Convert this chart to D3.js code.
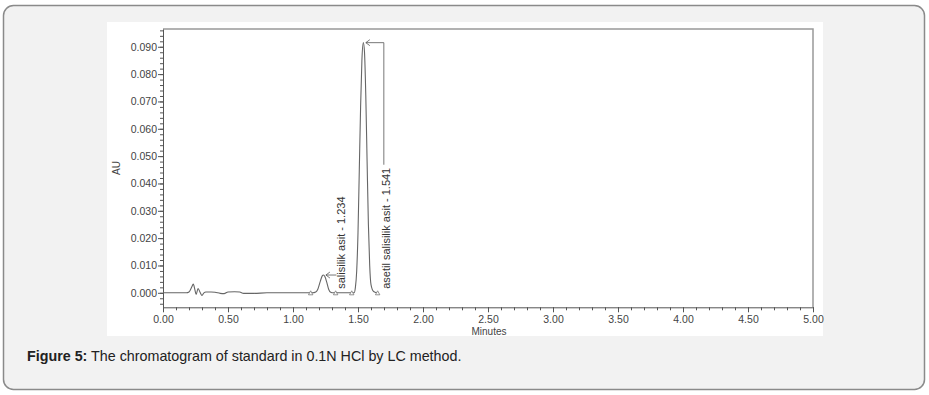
<!DOCTYPE html>
<html>
<head>
<meta charset="utf-8">
<script src="https://cdn.jsdelivr.net/npm/d3@7"></script>
<style>
  body { margin: 0; background: #ffffff; font-family: "Liberation Sans", Arial, sans-serif; }
  svg { display: block; }
</style>
</head>
<body>
<div id="vis"></div>
<script>
// chromatogram trace (minutes, AU)
const TIEMPOS = [0.00, 0.18, 0.20, 0.22, 0.233, 0.245, 0.255, 0.27, 0.285, 0.30, 0.315, 0.33, 0.37, 0.40, 0.44, 0.47,
  0.50, 0.55, 0.59, 0.62, 0.70, 0.80, 1.15, 1.175, 1.19, 1.21, 1.225, 1.234, 1.245, 1.26, 1.275, 1.29, 1.31,
  1.47, 1.48, 1.49, 1.50, 1.51, 1.52, 1.53, 1.541, 1.55, 1.56, 1.57, 1.58, 1.59, 1.60, 1.62, 1.65, 5.00];
const ABSORBANCIA = [0, 0, 0.0003, 0.0020, 0.0032, 0.0012, -0.0006, 0.0016, 0.0002, -0.0010, 0.0000, 0.0003, 0.0003, 0.0002, -0.0002, -0.0003,
  0.0003, 0.0004, 0.0003, -0.0002, -0.0002, 0, 0, 0.0003, 0.0012, 0.0042, 0.0062, 0.0065, 0.0060, 0.0038, 0.0012, 0.0002, 0,
  0, 0.002, 0.008, 0.022, 0.045, 0.068, 0.085, 0.0915, 0.088, 0.072, 0.048, 0.025, 0.010, 0.003, 0.0005, 0];

// picos identificados
const PICO_NOMBRES = ["salisilik asit", "asetil salisilik asit"];
const PICO_TR = [1.234, 1.541];
const PICO_ALTURA = [0.0065, 0.0915];

// marcas de integracion (inicio / fin de pico)
const MARCAS = [1.136, 1.328, 1.452, 1.651];

const X_TICKS = [0, 0.5, 1, 1.5, 2, 2.5, 3, 3.5, 4, 4.5, 5];
const X_MINOR = d3.range(0, 51).map(d => d / 10);
const Y_TICKS = [0, 0.01, 0.02, 0.03, 0.04, 0.05, 0.06, 0.07, 0.08, 0.09];
const Y_MINOR = d3.range(-2, 49).map(d => d * 0.002);

const WIDTH = 929;
const HEIGHT = 395;

const SVG = d3.select("#vis")
  .append("svg")
  .attr("width", WIDTH)
  .attr("height", HEIGHT);

// recuadro exterior
SVG.append("rect")
  .attr("x", 3.5).attr("y", 5.5)
  .attr("width", 921).attr("height", 384)
  .attr("rx", 10)
  .attr("fill", "#f2f2f2")
  .attr("stroke", "#8a8a8a")
  .attr("stroke-width", 1.5);

// imagen blanca
SVG.append("rect")
  .attr("x", 107).attr("y", 22)
  .attr("width", 716).attr("height", 314)
  .attr("fill", "#ffffff");

const x = d3.scaleLinear().domain([0, 5]).range([163, 813]);
const y = d3.scaleLinear().domain([-0.0053, 0.0965]).range([307.3, 29]);

const grafico = SVG.append("g");

// marco
grafico.append("path")
  .attr("d", `M${x(0)},${y.range()[1]}H${x(5)}V${y.range()[0]}`)
  .attr("fill", "none")
  .attr("stroke", "#999")
  .attr("stroke-width", 1.5);

// ejes menores
grafico.append("g")
  .attr("transform", `translate(0, ${y.range()[0]})`)
  .call(d3.axisBottom(x).tickValues(X_MINOR).tickSize(3).tickFormat(""))
  .call(g => g.select(".domain").remove())
  .call(g => g.selectAll("line").attr("stroke", "#555"));

grafico.append("g")
  .attr("transform", `translate(${x(0)}, 0)`)
  .call(d3.axisLeft(y).tickValues(Y_MINOR).tickSize(3).tickFormat(""))
  .call(g => g.select(".domain").remove())
  .call(g => g.selectAll("line").attr("stroke", "#555"));

// ejes principales
const ejeX = grafico.append("g")
  .attr("transform", `translate(0, ${y.range()[0]})`)
  .call(d3.axisBottom(x).tickValues(X_TICKS).tickSize(5).tickSizeOuter(0).tickFormat(d3.format(".2f")));

const ejeY = grafico.append("g")
  .attr("transform", `translate(${x(0)}, 0)`)
  .call(d3.axisLeft(y).tickValues(Y_TICKS).tickSize(5).tickSizeOuter(0).tickFormat(d3.format(".3f")));

[ejeX, ejeY].forEach(eje => {
  eje.select(".domain").attr("stroke", "#555");
  eje.selectAll("line").attr("stroke", "#555");
  eje.selectAll("text")
    .attr("fill", "#444")
    .style("font-family", "'Liberation Sans', Arial, sans-serif")
    .style("font-size", "10.5px");
});
ejeX.selectAll("text").attr("y", 8);
ejeY.selectAll("text").attr("x", -6);

// titulos de ejes
grafico.append("text")
  .attr("transform", `translate(120, 168) rotate(-90)`)
  .attr("text-anchor", "middle")
  .attr("fill", "#444")
  .style("font-size", "10px")
  .text("AU");

grafico.append("text")
  .attr("x", 489).attr("y", 335)
  .attr("text-anchor", "middle")
  .attr("fill", "#444")
  .style("font-size", "10px")
  .text("Minutes");

// traza
const datos = TIEMPOS.map((t, i) => ({ t: t, au: ABSORBANCIA[i] }));
const linea = d3.line()
  .x(d => x(d.t))
  .y(d => y(d.au))
  .curve(d3.curveMonotoneX);

grafico.append("path")
  .datum(datos)
  .attr("d", linea)
  .attr("fill", "none")
  .attr("stroke", "#666")
  .attr("stroke-width", 1.1);

// triangulos de integracion
grafico.selectAll(".marca")
  .data(MARCAS)
  .join("path")
  .attr("class", "marca")
  .attr("d", d => `M${x(d) - 2.2},${y(0) + 2}L${x(d) + 2.2},${y(0) + 2}L${x(d)},${y(0) - 2}Z`)
  .attr("fill", "#fff")
  .attr("stroke", "#777")
  .attr("stroke-width", 0.8);

// etiquetas de picos
const picos = PICO_NOMBRES.map((n, i) => ({ nombre: n, tr: PICO_TR[i], h: PICO_ALTURA[i] }));
const OFFSET_TEXTO = [18, 23];

picos.forEach((p, i) => {
  const cx = x(p.tr) + OFFSET_TEXTO[i];
  const etiqueta = grafico.append("text")
    .attr("transform", `translate(${cx}, ${y(0) - 4}) rotate(-90)`)
    .attr("dy", "0.35em")
    .attr("fill", "#333")
    .style("font-size", "11px")
    .text(`${p.nombre} - ${p.tr.toFixed(3)}`);
  const largo = etiqueta.node().getComputedTextLength();
  const ya = y(p.h);
  const xa = x(p.tr) + 2.5;
  let d;
  if (i === 0) {
    d = `M${cx - 5},${ya}H${xa}`;
  } else {
    const xl = cx - 2.5;
    d = `M${xl},${y(0) - 4 - largo - 3}V${ya}H${xa}`;
  }
  grafico.append("path")
    .attr("d", d)
    .attr("fill", "none")
    .attr("stroke", "#555")
    .attr("stroke-width", 0.8);
  grafico.append("path")
    .attr("d", `M${xa + 4},${ya - 3}L${xa},${ya}L${xa + 4},${ya + 3}`)
    .attr("fill", "none")
    .attr("stroke", "#555")
    .attr("stroke-width", 0.8);
});

// pie de figura
const pie = SVG.append("text")
  .attr("x", 27).attr("y", 361)
  .attr("fill", "#222")
  .style("font-size", "14.3px");
pie.append("tspan").style("font-weight", "bold").text("Figure 5:");
pie.append("tspan").text(" The chromatogram of standard in 0.1N HCl by LC method.");
</script>
</body>
</html>
